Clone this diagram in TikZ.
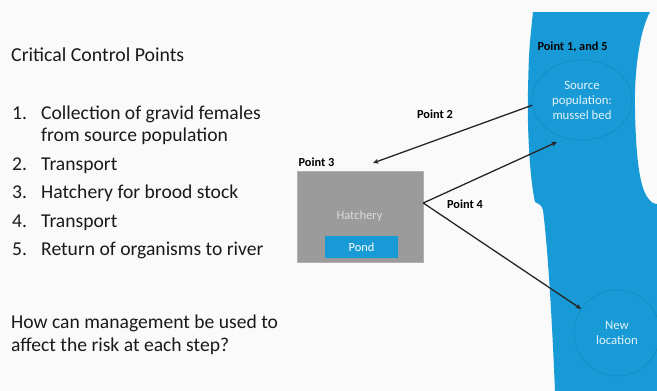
\documentclass[tikz,border=0pt]{standalone}
\usepackage{fontspec}
\setmainfont{Carlito}
\usetikzlibrary{arrows.meta,shapes.geometric}
\definecolor{riverblue}{HTML}{189AD6}
\definecolor{circedge}{HTML}{1686BC}
\definecolor{hatchgrey}{HTML}{9B9B9B}
\definecolor{hatchedge}{HTML}{B8B0B0}
\definecolor{txt}{HTML}{1A1A1A}
\tikzset{
  bodytext/.style={anchor=base west,inner sep=0pt,font=\fontsize{19.6}{22}\selectfont,text=txt},
  ptlabel/.style={inner sep=0pt,font=\fontsize{12.3}{14}\bfseries\selectfont,text=black},
  spot/.style={draw=circedge,line width=0.5pt,fill=riverblue,text=white!88!riverblue,align=center,inner sep=0pt,font=\fontsize{12.8}{15}\selectfont},
  conn/.style={line width=1.3pt,black!85,-{Stealth[length=5.5pt,width=5pt]}},
}
\begin{document}
\begin{tikzpicture}[x=1pt,y=-1pt]
\useasboundingbox (0,0) rectangle (657,391);
\fill[white!98!black] (0,0) rectangle (657,391);
% river
\fill[riverblue] (533,12) -- (650,12) .. controls (640,30) and (634,70) .. (635,110)
  .. controls (636,160) and (640,188) .. (648,198) .. controls (652,203) .. (657,204)
  -- (657,391) -- (555,391) .. controls (552,320) and (548,250) .. (543,210)
  .. controls (541,205) .. (535,202) .. controls (530,180) and (527,130) .. (528,90)
  .. controls (529,50) .. (533,12) -- cycle;
% left text
\node[bodytext,font=\fontsize{19.8}{22}\selectfont] (title) at (11,61.5) {Critical Control Points};
\node[bodytext] (n1) at (12,119.5) {1.};
\node[bodytext] (l1) at (41,119.5) {Collection of gravid females};
\node[bodytext] (l1b) at (41,141.5) {from source population};
\node[bodytext] (n2) at (12,170) {2.};
\node[bodytext] (l2) at (41,170) {Transport};
\node[bodytext] (n3) at (12,198.5) {3.};
\node[bodytext] (l3) at (41,198.5) {Hatchery for brood stock};
\node[bodytext] (n4) at (12,227) {4.};
\node[bodytext] (l4) at (41,227) {Transport};
\node[bodytext] (n5) at (12,255.5) {5.};
\node[bodytext] (l5) at (41,255.5) {Return of organisms to river};
\node[bodytext] (q1) at (11,328.5) {How can management be used to};
\node[bodytext] (q2) at (11,351) {affect the risk at each step?};
% river spots
\node[spot,ellipse,minimum width=100pt,minimum height=80pt] (src) at (582,100) {Source\\population:\\mussel bed};
\node[spot,circle,minimum size=86pt] (newloc) at (617,333) {New\\location};
% hatchery
\node[draw=hatchedge,line width=0.5pt,fill=hatchgrey,minimum width=126pt,minimum height=91pt,inner sep=0pt] (hatch) at (360,216.5) {};
\node[text=black!14,inner sep=0pt,font=\fontsize{12.5}{14}\selectfont] (hatchlbl) at (359.5,216.5) {Hatchery};
\node[fill=riverblue,minimum width=73pt,minimum height=22pt,inner sep=0pt,text=white,font=\fontsize{12.4}{14}\selectfont] (pond) at (361.5,247) {Pond};
% labels
\node[ptlabel] (pt15) at (572.5,47) {Point 1, and 5};
\node[ptlabel] (pt2) at (435,114.5) {Point 2};
\node[ptlabel] (pt3) at (316.5,162.5) {Point 3};
\node[ptlabel] (pt4) at (465,204) {Point 4};
% connectors
\coordinate (p2end) at (373,163);
\coordinate (h4) at ([yshift=13.5pt]hatch.east);
\coordinate (p4end) at (557,142);
\draw[conn] (src.186) -- (p2end);
\draw[conn] (h4) -- (p4end);
\draw[conn] (h4) -- (newloc);
\end{tikzpicture}
\end{document}
